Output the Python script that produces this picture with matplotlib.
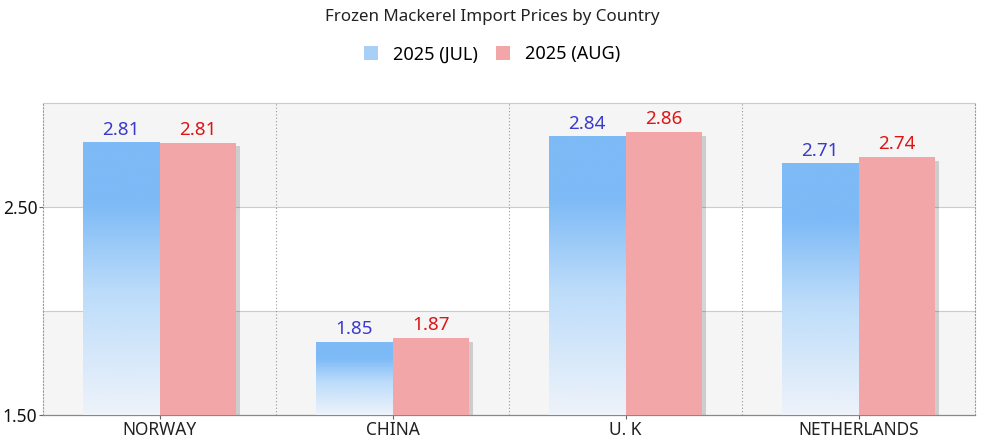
import numpy as np
import matplotlib.pyplot as plt
from matplotlib.patches import Rectangle, Patch
from matplotlib.colors import LinearSegmentedColormap

plt.rcParams['font.family'] = ['Noto Sans', 'DejaVu Sans']

countries = ["NORWAY", "CHINA", "U. K", "NETHERLANDS"]
jul = [2.81, 1.85, 2.84, 2.71]
aug = [2.81, 1.87, 2.86, 2.74]
series = ["2025 (JUL)", "2025 (AUG)"]

fig = plt.figure(figsize=(9.84, 4.46), dpi=100)
ax = fig.add_axes([0.0437, 0.0695, 0.9472, 0.6995])

ymin, ymax = 1.5, 3.0
ax.set_xlim(-0.5, len(countries) - 0.5)
ax.set_ylim(ymin, ymax)

# alternating bands
for i, lo in enumerate(np.arange(ymin, ymax, 0.5)):
    if i % 2 == 0:
        ax.axhspan(lo, lo + 0.5, color='#f5f5f5', zorder=0, lw=0)
for v in [2.0, 2.5]:
    ax.axhline(v, color='#cccccc', lw=0.8, zorder=1)
for b in np.arange(0.5, len(countries) - 0.5):
    ax.axvline(b, color='#999999', lw=0.8, ls=(0, (1, 2)), zorder=1)

blue_cmap = LinearSegmentedColormap.from_list(
    'b', [(0, '#eef3fa'), (0.45, '#bcdcfa'), (0.78, '#7dbaf6'), (1, '#7dbaf6')])
w = 0.33
red = '#f3a6a7'

def shadow(x, h):
    ax.add_patch(Rectangle((x + 0.014, ymin - 0.018), w, h - ymin, color='#000000',
                           alpha=0.16, lw=0, zorder=2))

for i in range(len(countries)):
    xb = i - w
    xr = i
    shadow(xb, jul[i])
    shadow(xr, aug[i])
    grad = np.linspace(0, 1, 256).reshape(-1, 1)
    ax.imshow(grad, cmap=blue_cmap, origin='lower', aspect='auto',
              extent=(xb, xb + w, ymin, jul[i]), zorder=3)
    ax.add_patch(Rectangle((xr, ymin), w, aug[i] - ymin, color=red, lw=0, zorder=3))
    ax.text(xb + w / 2, jul[i] + 0.018, f"{jul[i]:.2f}", ha='center', va='bottom',
            color='#3a3acc', fontsize=13.5, zorder=4)
    ax.text(xr + w / 2, aug[i] + 0.018, f"{aug[i]:.2f}", ha='center', va='bottom',
            color='#dd1515', fontsize=13.5, zorder=4)

ax.set_xlim(-0.5, len(countries) - 0.5)
ax.set_ylim(ymin, ymax)
ax.set_xticks(range(len(countries)))
ax.set_xticklabels(countries, fontsize=12.5, color='#222222')
ax.set_yticks([1.5, 2.5])
ax.set_yticklabels(["1.50", "2.50"], fontsize=12.5, color='#111111')
ax.tick_params(axis='both', length=3, color='#666666', pad=1)

for s in ['left', 'right']:
    ax.spines[s].set_linestyle((0, (1, 2)))
    ax.spines[s].set_color('#999999')
    ax.spines[s].set_linewidth(0.8)
ax.spines['top'].set_color('#cccccc')
ax.spines['top'].set_linewidth(0.8)
ax.spines['bottom'].set_color('#888888')
ax.spines['bottom'].set_linewidth(0.9)

fig.text(0.5, 0.963, "Frozen Mackerel Import Prices by Country", ha='center', va='center',
         fontsize=12.2, color='#222222')
handles = [Patch(facecolor='#a8d0f7', edgecolor='none'), Patch(facecolor=red, edgecolor='none')]
fig.legend(handles, series, loc='center', bbox_to_anchor=(0.5, 0.878), ncol=2, frameon=False,
           fontsize=13, handlelength=0.8, handleheight=0.8, handletextpad=0.8, columnspacing=1.0)

fig.savefig('out.png', dpi=100)
